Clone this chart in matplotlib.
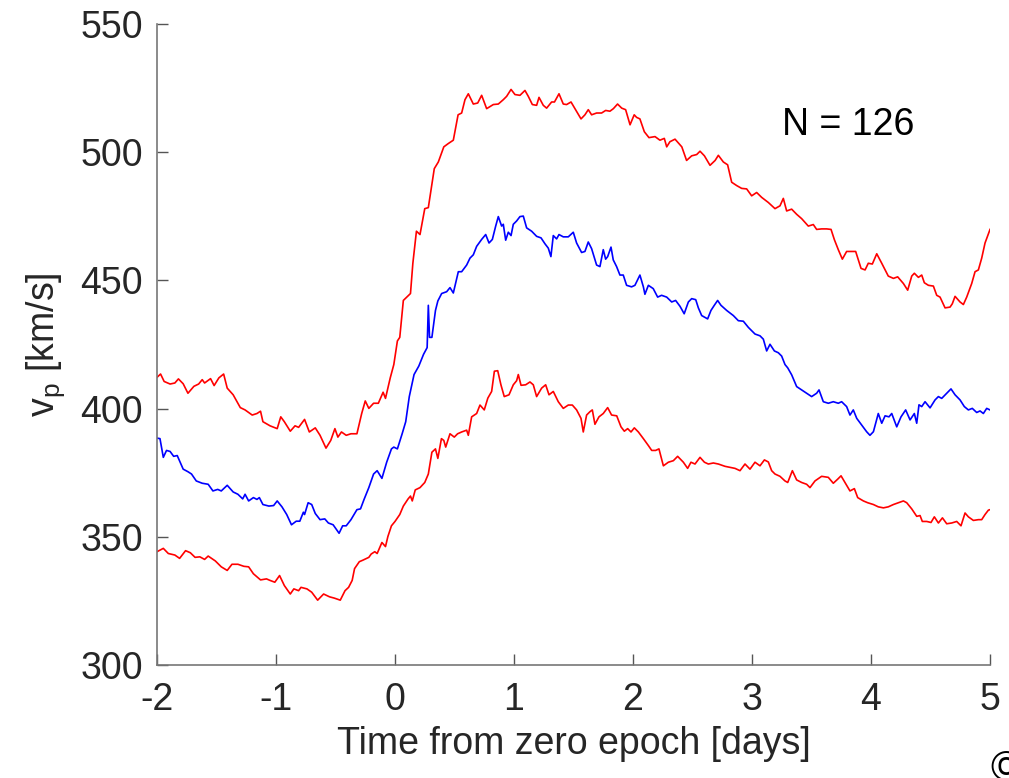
import numpy as np
import matplotlib
matplotlib.use("Agg")
from matplotlib import pyplot as plt

# upper red curve (time [days], v_p [km/s])
upper_t = [-2.0, -1.97, -1.94, -1.89, -1.85, -1.82, -1.78, -1.74, -1.69, -1.65, -1.62, -1.60,
           -1.55, -1.52, -1.48, -1.44, -1.41, -1.36, -1.30, -1.26, -1.20, -1.16, -1.13, -1.11,
           -1.05, -0.99, -0.96, -0.93, -0.88, -0.84, -0.81, -0.76, -0.72, -0.67, -0.63, -0.58,
           -0.54, -0.505, -0.48, -0.45, -0.41, -0.37, -0.32, -0.28, -0.25, -0.22, -0.18, -0.14,
           -0.10, -0.08, -0.04, -0.01, 0.02, 0.04, 0.07, 0.13, 0.15, 0.18, 0.21, 0.25,
           0.28, 0.33, 0.364, 0.41, 0.448, 0.49, 0.53, 0.56, 0.588, 0.616, 0.658, 0.695,
           0.728, 0.77, 0.826, 0.868, 0.91, 0.938, 0.975, 1.008, 1.05, 1.092, 1.12, 1.154,
           1.19, 1.21, 1.246, 1.274, 1.316, 1.34, 1.378, 1.414, 1.442, 1.479, 1.512, 1.563,
           1.596, 1.624, 1.652, 1.694, 1.736, 1.77, 1.806, 1.835, 1.87, 1.905, 1.938, 1.975,
           2.01, 2.03, 2.058, 2.095, 2.134, 2.185, 2.226, 2.263, 2.283, 2.31, 2.353, 2.41,
           2.45, 2.493, 2.535, 2.563, 2.6, 2.647, 2.69, 2.717, 2.759, 2.795, 2.829, 2.871,
           2.913, 2.955, 2.997, 3.039, 3.081, 3.137, 3.193, 3.235, 3.263, 3.291, 3.333, 3.375,
           3.417, 3.473, 3.515, 3.543, 3.585, 3.627, 3.664, 3.692, 3.725, 3.759, 3.795, 3.837,
           3.871, 3.916, 3.95, 3.977, 4.011, 4.048, 4.09, 4.145, 4.188, 4.224, 4.272, 4.308,
           4.342, 4.364, 4.398, 4.426, 4.448, 4.482, 4.524, 4.552, 4.58, 4.622, 4.664, 4.683,
           4.706, 4.748, 4.776, 4.804, 4.846, 4.874, 4.902, 4.93, 4.958, 5.0]
upper_v = [412.2, 413.5, 410.6, 409.6, 410.0, 411.6, 409.7, 406.0, 408.7, 409.6, 411.3, 410.0,
           411.7, 409.0, 412.0, 413.5, 408.0, 405.4, 400.4, 399.5, 397.5, 398.1, 399.0, 394.9,
           393.3, 392.2, 396.8, 394.9, 391.2, 393.3, 392.7, 395.8, 390.9, 392.5, 389.6, 384.6,
           387.6, 392.2, 388.9, 390.9, 389.6, 390.2, 390.2, 398.1, 403.0, 400.1, 402.1, 402.1,
           406.4, 404.0, 412.0, 417.2, 426.4, 427.8, 442.2, 444.9, 456.7, 469.2, 467.9, 478.0,
           478.4, 493.6, 496.2, 502.1, 503.4, 504.7, 514.6, 515.3, 520.5, 522.8, 518.8, 519.2,
           522.2, 517.0, 518.6, 518.8, 520.5, 521.8, 524.5, 522.5, 522.2, 524.1, 521.8, 518.6,
           518.3, 521.4, 518.3, 517.2, 519.6, 519.6, 522.8, 518.8, 518.6, 519.6, 517.0, 513.0,
           514.6, 516.6, 514.6, 515.3, 515.3, 516.3, 516.0, 517.0, 518.8, 517.2, 516.6, 510.7,
           514.6, 513.6, 513.0, 508.0, 505.7, 506.1, 504.7, 505.4, 502.1, 504.1, 505.1, 502.1,
           496.8, 498.6, 499.1, 500.4, 498.6, 494.9, 496.8, 498.8, 496.2, 495.1, 488.3, 487.0,
           485.9, 485.7, 483.0, 484.3, 482.4, 480.4, 478.0, 479.1, 482.0, 477.1, 477.8, 475.8,
           474.1, 471.2, 471.8, 469.9, 470.1, 470.1, 469.9, 465.9, 462.0, 458.3, 461.3, 461.3,
           461.3, 454.7, 454.1, 456.7, 456.4, 460.4, 456.7, 451.7, 450.8, 451.4, 448.8, 446.2,
           451.7, 452.8, 451.2, 452.1, 449.1, 448.1, 447.8, 444.2, 443.5, 439.3, 439.6, 440.9,
           443.8, 441.6, 440.6, 443.5, 448.8, 453.4, 454.1, 458.7, 464.6, 469.9]

# mean (blue)
mean_t = [-2.0, -1.975, -1.947, -1.92, -1.89, -1.86, -1.83, -1.78, -1.74, -1.71, -1.67, -1.62,
          -1.57, -1.53, -1.49, -1.46, -1.41, -1.36, -1.32, -1.28, -1.26, -1.23, -1.19, -1.16,
          -1.14, -1.11, -1.06, -1.02, -0.99, -0.95, -0.91, -0.87, -0.83, -0.80, -0.77, -0.76,
          -0.73, -0.70, -0.67, -0.63, -0.59, -0.56, -0.52, -0.47, -0.44, -0.41, -0.37, -0.32,
          -0.29, -0.26, -0.22, -0.18, -0.15, -0.11, -0.07, -0.03, -0.01, 0.02, 0.06, 0.09,
          0.12, 0.16, 0.20, 0.24, 0.27, 0.28, 0.29, 0.31, 0.34, 0.36, 0.392, 0.434,
          0.462, 0.49, 0.532, 0.56, 0.602, 0.63, 0.658, 0.686, 0.728, 0.762, 0.79, 0.818,
          0.846, 0.868, 0.896, 0.91, 0.93, 0.952, 0.975, 0.994, 1.022, 1.05, 1.078, 1.106,
          1.148, 1.19, 1.227, 1.26, 1.288, 1.31, 1.33, 1.358, 1.378, 1.414, 1.456, 1.498,
          1.526, 1.568, 1.596, 1.624, 1.652, 1.694, 1.722, 1.75, 1.77, 1.787, 1.815, 1.834,
          1.862, 1.89, 1.918, 1.946, 1.988, 2.016, 2.058, 2.087, 2.1, 2.129, 2.17, 2.207,
          2.24, 2.283, 2.325, 2.358, 2.395, 2.43, 2.465, 2.493, 2.527, 2.549, 2.577, 2.627,
          2.655, 2.683, 2.711, 2.739, 2.787, 2.843, 2.885, 2.927, 2.969, 3.025, 3.067, 3.095,
          3.123, 3.151, 3.188, 3.221, 3.249, 3.277, 3.3, 3.333, 3.375, 3.417, 3.459, 3.501,
          3.543, 3.563, 3.599, 3.641, 3.683, 3.725, 3.753, 3.795, 3.823, 3.851, 3.88, 3.921,
          3.963, 3.991, 4.02, 4.061, 4.09, 4.118, 4.151, 4.174, 4.216, 4.252, 4.291, 4.328,
          4.364, 4.384, 4.403, 4.426, 4.454, 4.496, 4.538, 4.566, 4.594, 4.636, 4.672, 4.706,
          4.748, 4.784, 4.818, 4.851, 4.888, 4.916, 4.944, 4.972, 5.0]
mean_v = [388.5, 388.3, 381.0, 383.7, 383.3, 381.4, 381.7, 376.4, 375.4, 374.5, 371.8, 370.9,
          370.5, 367.9, 368.5, 367.9, 370.1, 367.5, 366.6, 364.8, 366.6, 364.0, 365.3, 364.6,
          365.3, 362.6, 362.0, 362.2, 364.0, 361.7, 358.7, 354.7, 356.1, 356.1, 359.6, 358.7,
          363.3, 362.6, 359.1, 356.7, 357.0, 355.4, 354.7, 351.4, 354.3, 354.3, 356.7, 360.6,
          360.9, 364.6, 369.2, 374.5, 375.8, 372.8, 379.1, 384.3, 385.0, 384.3, 390.2, 394.9,
          404.7, 413.3, 416.6, 421.2, 423.8, 440.3, 427.8, 427.8, 438.3, 442.0, 444.9, 445.6,
          447.2, 445.1, 453.4, 453.4, 456.0, 458.7, 460.0, 463.3, 466.0, 467.9, 464.6, 466.0,
          471.2, 474.9, 471.2, 471.9, 465.7, 468.8, 467.5, 471.9, 473.2, 474.9, 475.1, 470.5,
          469.2, 467.2, 466.6, 464.3, 462.6, 459.3, 467.5, 466.2, 467.9, 467.0, 467.0, 468.8,
          464.6, 460.9, 461.3, 465.0, 462.4, 456.0, 455.4, 462.0, 458.3, 459.3, 463.0, 458.0,
          455.4, 452.1, 452.1, 448.1, 447.5, 448.1, 452.1, 447.5, 444.6, 448.1, 446.8, 443.5,
          444.2, 443.5, 441.6, 442.2, 439.9, 437.0, 441.6, 442.9, 442.5, 439.3, 436.3, 435.0,
          438.3, 440.3, 442.2, 440.3, 438.3, 436.3, 434.3, 434.1, 431.7, 429.1, 428.4, 427.1,
          422.5, 425.1, 422.5, 421.8, 420.5, 417.2, 415.9, 413.2, 408.6, 407.3, 406.0, 404.7,
          406.0, 407.3, 402.7, 402.1, 402.7, 402.1, 402.7, 400.8, 397.5, 399.5, 396.2, 393.6,
          391.0, 389.6, 391.0, 398.1, 394.3, 397.2, 396.8, 398.1, 392.9, 396.8, 399.5, 395.6,
          398.1, 394.3, 401.5, 400.8, 402.7, 400.3, 403.4, 404.7, 404.0, 406.0, 407.7, 405.4,
          403.4, 400.8, 399.5, 400.1, 398.5, 399.1, 398.1, 400.1, 399.5]

# lower red curve
lower_t = [-2.0, -1.947, -1.905, -1.85, -1.81, -1.76, -1.72, -1.68, -1.64, -1.60, -1.57, -1.51,
           -1.46, -1.41, -1.37, -1.32, -1.27, -1.23, -1.19, -1.13, -1.08, -1.05, -1.01, -0.97,
           -0.93, -0.88, -0.85, -0.81, -0.79, -0.74, -0.70, -0.65, -0.60, -0.55, -0.51, -0.46,
           -0.42, -0.39, -0.36, -0.34, -0.30, -0.27, -0.22, -0.20, -0.17, -0.15, -0.11, -0.08,
           -0.06, -0.03, 0.0, 0.04, 0.07, 0.11, 0.13, 0.145, 0.17, 0.21, 0.25, 0.28,
           0.31, 0.34, 0.36, 0.39, 0.41, 0.426, 0.462, 0.498, 0.526, 0.56, 0.602, 0.616,
           0.644, 0.686, 0.714, 0.75, 0.78, 0.812, 0.835, 0.863, 0.89, 0.918, 0.958, 0.994,
           1.022, 1.036, 1.059, 1.098, 1.134, 1.162, 1.19, 1.232, 1.266, 1.294, 1.33, 1.372,
           1.414, 1.456, 1.49, 1.526, 1.563, 1.582, 1.61, 1.638, 1.658, 1.68, 1.714, 1.75,
           1.787, 1.82, 1.863, 1.899, 1.927, 1.955, 1.983, 2.011, 2.045, 2.087, 2.129, 2.157,
           2.19, 2.218, 2.255, 2.297, 2.339, 2.375, 2.423, 2.459, 2.487, 2.521, 2.563, 2.6,
           2.633, 2.675, 2.717, 2.773, 2.815, 2.857, 2.899, 2.941, 2.983, 3.025, 3.067, 3.104,
           3.137, 3.165, 3.193, 3.235, 3.277, 3.3, 3.339, 3.375, 3.417, 3.459, 3.487, 3.529,
           3.585, 3.641, 3.683, 3.72, 3.748, 3.781, 3.823, 3.86, 3.888, 3.936, 3.972, 4.02,
           4.061, 4.104, 4.145, 4.188, 4.23, 4.272, 4.3, 4.342, 4.384, 4.412, 4.431, 4.468,
           4.504, 4.532, 4.566, 4.6, 4.636, 4.678, 4.72, 4.756, 4.79, 4.818, 4.86, 4.902,
           4.93, 4.958, 4.986, 5.0]
lower_v = [344.2, 345.5, 343.5, 342.9, 341.6, 344.6, 343.8, 342.0, 342.2, 341.2, 342.5, 340.6,
           338.3, 336.9, 339.3, 339.3, 338.5, 338.3, 335.6, 333.2, 333.6, 333.0, 332.3, 334.9,
           331.0, 327.7, 329.7, 329.0, 330.3, 329.7, 328.4, 325.3, 327.7, 326.6, 326.1, 325.3,
           329.0, 330.3, 333.0, 337.6, 340.3, 340.9, 342.0, 343.3, 344.2, 343.5, 347.8, 346.2,
           350.1, 354.3, 356.0, 358.7, 362.0, 364.8, 365.9, 364.0, 368.3, 369.2, 371.2, 374.5,
           383.0, 384.3, 380.6, 388.3, 387.6, 385.0, 390.2, 388.9, 390.2, 390.9, 391.6, 389.6,
           396.8, 398.1, 401.4, 399.5, 404.1, 406.7, 414.6, 414.8, 409.3, 404.7, 405.4, 409.3,
           410.9, 413.3, 409.1, 409.3, 410.4, 409.3, 404.7, 408.0, 409.3, 405.4, 406.7, 402.7,
           400.1, 401.4, 401.4, 399.5, 396.2, 390.9, 397.5, 398.8, 399.5, 393.9, 396.8, 398.1,
           400.4, 397.5, 397.2, 392.9, 391.2, 392.2, 390.9, 392.5, 390.9, 388.3, 385.6, 383.7,
           383.7, 384.3, 377.7, 379.1, 379.7, 381.4, 379.1, 376.7, 379.1, 378.4, 381.0, 379.1,
           378.4, 378.8, 378.4, 377.5, 377.1, 376.7, 375.8, 378.4, 376.4, 379.1, 377.7, 380.0,
           379.2, 375.8, 374.5, 373.6, 371.8, 371.2, 375.8, 372.2, 371.2, 370.5, 369.2, 371.8,
           373.6, 373.2, 370.9, 372.5, 373.8, 371.2, 367.9, 368.8, 365.3, 364.0, 363.3, 362.6,
           361.7, 361.3, 361.7, 362.6, 363.3, 364.0, 363.3, 360.9, 358.0, 358.3, 356.0, 356.0,
           355.6, 357.8, 355.4, 357.4, 355.1, 355.4, 356.0, 354.3, 359.3, 357.8, 356.4, 356.7,
           356.7, 358.7, 360.4, 360.6]

x_ticks = [-2, -1, 0, 1, 2, 3, 4, 5]
y_ticks = [300, 350, 400, 450, 500, 550]

plt.rcParams["font.family"] = ["Liberation Sans", "DejaVu Sans"]
plt.rcParams["mathtext.fontset"] = "custom"
plt.rcParams["mathtext.rm"] = "Liberation Sans"
plt.rcParams["axes.unicode_minus"] = False  # plain hyphen like the original

fig = plt.figure(figsize=(10.09, 7.78), dpi=100)
ax = fig.add_axes([0.1556, 0.1452, 0.8256, 0.8239])

ax.plot(upper_t, upper_v, color="#ff0000", lw=1.2)
ax.plot(mean_t, mean_v, color="#0000ff", lw=1.2)
ax.plot(lower_t, lower_v, color="#ff0000", lw=1.2)

ax.set_xlim(-2, 5)
ax.set_ylim(300, 550)
ax.set_xticks(x_ticks)
ax.set_yticks(y_ticks)

for side in ("top", "right"):
    ax.spines[side].set_visible(False)
for side in ("left", "bottom"):
    ax.spines[side].set_color("#777777")
    ax.spines[side].set_linewidth(1.2)

ax.tick_params(direction="in", length=8, width=1.0, color="#555555",
               labelsize=27, labelcolor="#262626")
ax.tick_params(axis="x", pad=12)
ax.tick_params(axis="y", pad=10)

ax.set_xlabel("Time from zero epoch [days]", fontsize=27, color="#262626", labelpad=6)
ax.set_ylabel(r"v$_\mathregular{p}$ [km/s]", fontsize=27, color="#262626", labelpad=10)

ax.text(3.81, 510.5, "N = 126", fontsize=27, color="black", ha="center", va="center")

# copyright mark clipped at the lower-right corner, as in the source image
fig.text(0.982, -0.015, "\u00a9", fontsize=30, color="black", ha="left", va="bottom")

fig.savefig("out.png", dpi=100)
